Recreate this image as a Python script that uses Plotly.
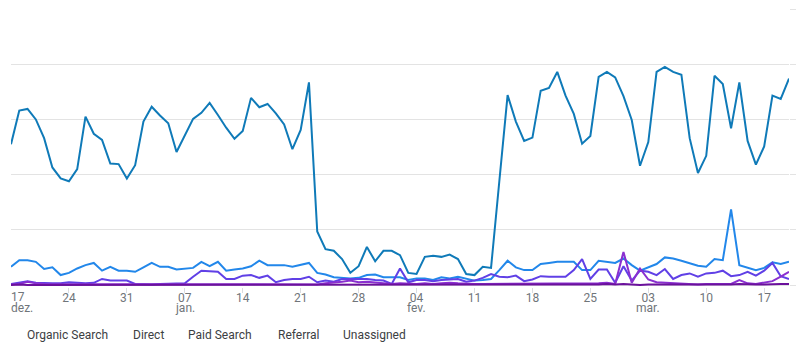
import pandas as pd
import plotly.graph_objects as go

dates = pd.date_range("2023-12-17", "2024-03-20", freq="D")

organic = [255, 316, 319, 300, 266, 213, 193,
           188, 210, 305, 274, 263, 220, 219,
           193, 217, 296, 323, 307, 293, 241,
           270, 301, 312, 330, 308, 285, 265,
           279, 339, 322, 328, 311, 291, 246,
           281, 367, 97, 65, 62, 47, 22,
           34, 69, 43, 62, 62, 54, 22,
           20, 51, 53, 51, 55, 47, 20,
           18, 33, 31, 188, 344, 296, 261,
           267, 352, 357, 386, 343, 310, 256,
           270, 377, 386, 376, 342, 299, 216,
           259, 386, 395, 386, 381, 266, 203,
           234, 379, 364, 284, 367, 261, 218,
           251, 343, 337, 374]

direct = [33, 45, 45, 42, 29, 32, 18,
          22, 30, 36, 40, 26, 33, 26,
          26, 24, 32, 40, 33, 33, 28,
          30, 31, 42, 34, 42, 26, 28,
          30, 34, 44, 36, 36, 36, 33,
          36, 40, 22, 19, 14, 13, 12,
          13, 18, 19, 14, 14, 14, 9,
          12, 12, 9, 14, 12, 15, 11,
          8, 9, 11, 27, 44, 32, 27,
          27, 38, 40, 42, 42, 42, 27,
          27, 44, 42, 40, 48, 36, 26,
          32, 38, 50, 48, 44, 39, 35,
          33, 47, 45, 137, 36, 31, 27,
          31, 41, 38, 42]

paid = [2, 5, 7, 4, 3, 3, 3,
        5, 4, 3, 4, 11, 8, 8,
        8, 2, 1, 1, 2, 2, 2,
        3, 15, 26, 25, 24, 11, 11,
        17, 18, 13, 17, 5, 9, 11,
        11, 15, 5, 8, 6, 11, 11,
        11, 11, 9, 8, 2, 30, 5,
        9, 9, 7, 9, 10, 11, 6,
        8, 13, 20, 15, 14, 17, 7,
        10, 16, 15, 15, 15, 27, 47,
        11, 28, 28, 4, 34, 8, 26,
        24, 18, 29, 11, 18, 21, 15,
        21, 22, 26, 16, 18, 24, 17,
        26, 40, 16, 11]

referral = [1, 2, 6, 3, 2, 2, 1,
            2, 2, 1, 2, 2, 1, 1,
            1, 1, 1, 2, 2, 1, 2,
            2, 2, 1, 2, 1, 2, 1,
            1, 2, 2, 1, 2, 2, 1,
            2, 2, 1, 3, 4, 6, 8,
            5, 6, 5, 4, 2, 3, 2,
            2, 3, 2, 3, 4, 3, 2,
            2, 2, 2, 2, 3, 2, 2,
            2, 2, 3, 2, 2, 2, 2,
            3, 3, 4, 2, 60, 4, 30,
            10, 5, 4, 3, 2, 2, 1,
            2, 2, 3, 2, 9, 3, 2,
            4, 7, 15, 24]

unassigned = [0, 1, 0, 0, 1, 0, 0,
              0, 0, 1, 0, 0, 0, 1,
              0, 0, 0, 0, 1, 0, 0,
              0, 1, 0, 0, 0, 1, 0,
              0, 0, 1, 0, 0, 0, 0,
              1, 0, 0, 1, 0, 0, 0,
              1, 0, 0, 0, 1, 0, 0,
              0, 1, 0, 0, 0, 0, 1,
              0, 0, 0, 1, 0, 0, 1,
              0, 0, 1, 0, 0, 1, 1,
              0, 1, 2, 1, 2, 1, 0,
              1, 1, 0, 1, 1, 0, 1,
              0, 1, 1, 1, 2, 1, 1,
              1, 2, 2, 2]

series_names = ["Organic Search", "Direct", "Paid Search", "Referral", "Unassigned"]
series_values = [organic, direct, paid, referral, unassigned]
series_colors = ["#0f7ab8", "#2287ea", "#6040e6", "#8a2fd0", "#6b119c"]

tick_dates = ["2023-12-24", "2023-12-31", "2024-01-07", "2024-01-14", "2024-01-21",
              "2024-01-28", "2024-02-04", "2024-02-11", "2024-02-18", "2024-02-25",
              "2024-03-03", "2024-03-10", "2024-03-17"]
tick_text = ["24", "31", "07", "14", "21", "28", "04", "11", "18", "25", "03", "10", "17"]
first_tick_date = "2023-12-17"
first_tick_text = "17"
month_dates = ["2023-12-17", "2024-01-07", "2024-02-04", "2024-03-03"]
month_text = ["dez.", "jan.", "fev.", "mar."]

legend_x_px = [27, 133, 188, 278, 343]

W, H = 799, 354
ML, MR, MT, MB = 11, 10, 9, 67
plot_w = W - ML - MR
plot_h = H - MT - MB

fig = go.Figure()
for name, vals, col in zip(series_names, series_values, series_colors):
    fig.add_trace(go.Scatter(x=dates, y=vals, mode="lines", name=name,
                             line=dict(color=col, width=2), showlegend=False,
                             hoverinfo="skip"))

font_fam = "Roboto, Arial, sans-serif"
tick_col = "#70757a"

annotations = []
# first tick label, clamped to the left edge
annotations.append(dict(x=first_tick_date, xref="x", y=-(297 - (MT + plot_h)) / plot_h, yref="paper",
                        text=first_tick_text, showarrow=False, xanchor="left", yanchor="middle",
                        font=dict(family=font_fam, size=12, color=tick_col),
                        borderpad=0, xshift=-1))
for d, t in zip(month_dates, month_text):
    anchor = "left" if d == month_dates[0] else "center"
    annotations.append(dict(x=d, xref="x", y=-(308 - (MT + plot_h)) / plot_h, yref="paper",
                            text=t, showarrow=False, xanchor=anchor, yanchor="middle",
                            font=dict(family=font_fam, size=12, color=tick_col),
                            borderpad=0, xshift=-1 if anchor == "left" else 0))
for name, px in zip(series_names, legend_x_px):
    annotations.append(dict(x=(px - ML) / plot_w, xref="paper",
                            y=-(335 - (MT + plot_h)) / plot_h, yref="paper",
                            text=name, showarrow=False, xanchor="left", yanchor="middle",
                            font=dict(family=font_fam, size=12, color="#3c4043"),
                            borderpad=0, xshift=-1))

fig.update_layout(
    width=W, height=H,
    margin=dict(l=ML, r=MR, t=MT, b=MB),
    paper_bgcolor="white", plot_bgcolor="white",
    showlegend=False,
    annotations=annotations,
    xaxis=dict(type="date", range=["2023-12-17", "2024-03-20"],
               tickmode="array", tickvals=tick_dates, ticktext=tick_text,
               showgrid=False, zeroline=False, showline=False,
               ticks="outside", ticklen=5, tickcolor="#dadce0",
               ticklabelstandoff=-5,
               tickfont=dict(family=font_fam, size=12, color=tick_col),
               automargin=False),
    yaxis=dict(range=[-3.6, 500], tickmode="linear", tick0=0, dtick=100,
               showgrid=True, gridcolor="#e3e3e3", gridwidth=1,
               zeroline=False, showline=False, showticklabels=False,
               side="right", ticks="outside", ticklen=6, tickcolor="#e3e3e3",
               automargin=False),
)

fig.write_html("out.html")
